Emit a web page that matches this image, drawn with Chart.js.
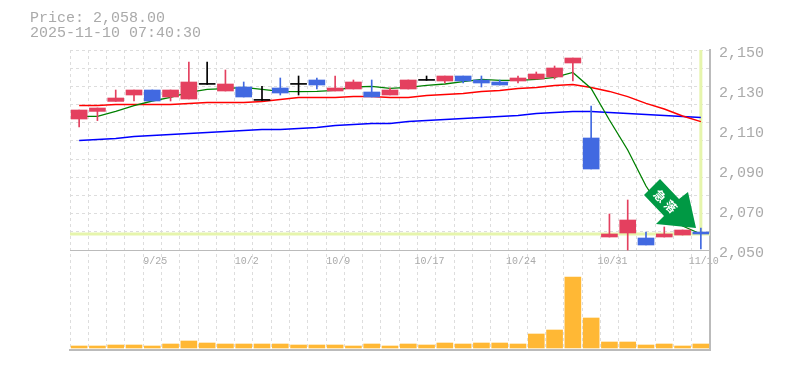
<!DOCTYPE html>
<html>
<head>
<meta charset="utf-8">
<title>Price chart</title>
<script src="https://cdn.jsdelivr.net/npm/chart.js@4"></script>
<style>
html, body { margin: 0; padding: 0; background: #fff; }
#wrap { position: relative; width: 785px; height: 370px; }
#info { position: absolute; left: 30px; top: 11px; font: 15px/15px "Liberation Mono", monospace; color: #aaa; white-space: pre; }
</style>
</head>
<body>
<div id="wrap">
  <canvas id="priceChart" width="785" height="370"></canvas>
  <div id="info">Price: 2,058.00
2025-11-10 07:40:30</div>
</div>
<script>
const dates = ["9/18","9/19","9/22","9/24","9/25","9/26","9/29","9/30","10/1","10/2","10/3","10/6","10/7","10/8","10/9","10/10","10/14","10/15","10/16","10/17","10/20","10/21","10/22","10/23","10/24","10/27","10/28","10/29","10/30","10/31","11/4","11/5","11/6","11/7","11/10"];
const labelDates = ["9/25","10/2","10/9","10/17","10/24","10/31","11/10"];

const opens = [2115.5,2119.3,2124.3,2127.5,2130,2126.5,2125.5,2132.8,2129.5,2131.5,2124.8,2131,2132.8,2135,2129.5,2130.5,2129,2127.5,2130.5,2134.8,2134.5,2137,2135,2134,2134.5,2135.5,2136.5,2143.5,2106,2056.5,2058.5,2056,2056.5,2057.5,2059];
const closes = [2120,2121,2126,2130,2124.5,2130,2134,2132.8,2133,2126.5,2124.8,2128.5,2132.8,2132.5,2131,2134,2126.5,2130,2135,2134.8,2137,2134.5,2133.5,2132.5,2136,2138,2141,2146,2090.5,2058,2065,2052.5,2058,2060,2058];
const highs = [2120,2121,2130,2130,2130,2130,2144,2144,2140,2134,2131.8,2136,2137,2136,2137,2135,2135,2131,2135,2137,2137,2137,2137,2135,2137,2139,2142,2146,2122,2068,2075,2059,2061.5,2060,2061];
const lows = [2111.5,2114.7,2124.3,2124.5,2124.5,2124.5,2125.5,2132.8,2129.5,2126.5,2124.8,2127.5,2127.5,2130.5,2129.5,2130.5,2126.5,2127.5,2130.5,2134.8,2133.5,2133.5,2131.5,2132.5,2133.5,2135.5,2135.5,2134.5,2090.5,2056.5,2050,2052.5,2056.5,2057.5,2050.5];

const maShort = [2116.8,2116.8,2119.3,2122.2,2124.5,2126.3,2128.8,2130.3,2130.7,2131.3,2130.3,2129.3,2129.2,2129.3,2129.8,2131.5,2131.8,2130.8,2131.3,2132.3,2133,2134.2,2135.3,2134.8,2134.8,2135.3,2136.3,2138.8,2130.8,2115,2100,2082,2068,2062,2058];
const maMiddle = [2122.3,2122.3,2122.8,2122.8,2122.8,2122.8,2123.3,2123.8,2123.8,2123.8,2124.3,2125.2,2126.3,2126.3,2126.3,2126.8,2126.8,2126.3,2126.3,2127.3,2127.8,2128.3,2129.3,2129.8,2130.8,2131.3,2132.3,2132.8,2131.3,2129.3,2126.7,2123.3,2120.5,2117,2114.2];
const maLong = [2104.8,2105.3,2105.8,2106.8,2107.3,2107.8,2108.3,2108.8,2109.3,2109.8,2110.3,2110.3,2110.8,2111.3,2112.3,2112.8,2113.3,2113.3,2114.3,2114.8,2115.3,2115.8,2116.3,2116.8,2117.3,2118.3,2118.8,2119.3,2119.3,2118.8,2118.3,2117.8,2117.3,2116.8,2116.3];
const volumes = [2,2,3,3,2,4,7,5,4,4,4,4,3,3,3,2,4,2,4,3,5,4,5,5,4,14,18,71,30,6,6,3,4,2,4];

const priceTicks = [2050,2070,2090,2110,2130,2150];
const currentPrice = 2058;

const UP = "#e4405f";
const DOWN = "#4169e1";
const DOJI = "#000000";

const candleColors = opens.map((o, i) => closes[i] > o ? UP : closes[i] < o ? DOWN : DOJI);
const wicks = lows.map((l, i) => [l, highs[i]]);
const bodies = opens.map((o, i) => [o, closes[i]]);

// yellow cross at the current price
const priceLines = {
  id: "priceLines",
  beforeDatasetsDraw(chart) {
    const { ctx, chartArea, scales } = chart;
    const y = scales.y.getPixelForValue(currentPrice);
    const x = scales.x.getPixelForValue(dates.length - 1);
    ctx.save();
    ctx.fillStyle = "#e6f5ac";
    ctx.fillRect(chartArea.left, y - 1.5, chartArea.width, 3);
    ctx.fillRect(x - 1.5, chartArea.top, 3, y - chartArea.top);
    ctx.restore();
  }
};

// green sign on top of the last candles
const signArrow = {
  id: "signArrow",
  afterDatasetsDraw(chart) {
    const ctx = chart.ctx;
    const pts = [[660,179],[644,195],[664,216],[656,224],[696,228],[688,192],[679,199]];
    ctx.save();
    ctx.fillStyle = "#009944";
    ctx.beginPath();
    pts.forEach((p, i) => i ? ctx.lineTo(p[0], p[1]) : ctx.moveTo(p[0], p[1]));
    ctx.closePath();
    ctx.fill();
    ctx.fillStyle = "#fff";
    ctx.font = "bold 12px 'Noto Sans CJK JP'";
    ctx.textAlign = "center";
    ctx.textBaseline = "middle";
    ctx.translate(660, 196);
    ctx.rotate(Math.PI / 4);
    ctx.fillText("急", 0, 0);
    ctx.translate(15, 0);
    ctx.fillText("落", 0, 0);
    ctx.restore();
  }
};

const maLine = (data, color, width) => ({
  type: "line",
  data: data,
  yAxisID: "y",
  borderColor: color,
  borderWidth: width,
  pointRadius: 0,
  tension: 0,
  order: 3
});

new Chart(document.getElementById("priceChart"), {
  data: {
    labels: dates,
    datasets: [
      { type: "bar", data: bodies, yAxisID: "y", backgroundColor: candleColors, barThickness: 16, minBarLength: 1, order: 1 },
      { type: "bar", data: wicks, yAxisID: "y", backgroundColor: candleColors, barThickness: 1, order: 2 },
      { type: "bar", data: volumes, yAxisID: "yVolume", backgroundColor: "#ffb835", barThickness: 16, order: 4 },
      maLine(maShort, "#008000", 1.3),
      maLine(maMiddle, "#ff0000", 1.5),
      maLine(maLong, "#0000ff", 1.5)
    ]
  },
  options: {
    responsive: false,
    animation: false,
    layout: { padding: { left: 70, top: 50, right: 0, bottom: 20 } },
    datasets: { bar: { grouped: false } },
    plugins: { legend: { display: false }, tooltip: { enabled: false } },
    scales: {
      x: {
        position: { y: 2050 },
        afterFit(scale) { scale.height = 0; },
        grid: { color: "#dddddd", lineWidth: 1, tickLength: 0 },
        border: { color: "#bbbbbb", width: 1, dash: [3, 3] },
        ticks: {
          color: "#aaaaaa",
          font: { family: "Liberation Mono", size: 10 },
          padding: 5,
          labelOffset: 3,
          autoSkip: false,
          maxRotation: 0,
          callback(value) {
            const label = this.getLabelForValue(value);
            return labelDates.includes(label) ? label : "";
          }
        }
      },
      xBottom: {
        type: "category",
        position: "bottom",
        afterFit(scale) { scale.height = 0; },
        grid: { display: false },
        border: { color: "#bbbbbb", width: 2 },
        ticks: { display: false }
      },
      y: {
        position: "right",
        min: 2000,
        max: 2150,
        afterBuildTicks(scale) { scale.ticks = priceTicks.map(v => ({ value: v })); },
        afterFit(scale) { scale.width = 75; },
        grid: { display: false },
        border: { color: "#bbbbbb", width: 2 },
        ticks: {
          color: "#aaaaaa",
          font: { family: "Liberation Mono", size: 15 },
          padding: 1,
          labelOffset: 3,
          callback: value => value.toLocaleString("en-US")
        }
      },
      yGrid: {
        display: true,
        position: "left",
        min: 2000,
        max: 2150,
        afterBuildTicks(scale) {
          const ticks = [];
          for (let i = 0; i <= 11; i++) ticks.push({ value: 2050 + i * 100 / 11 });
          scale.ticks = ticks;
        },
        afterFit(scale) { scale.width = 0; },
        grid: { color: "#dddddd", lineWidth: 1, tickLength: 0 },
        border: { display: false, dash: [3, 3] },
        ticks: { display: false }
      },
      yVolume: { display: false, min: -2, max: 298 }
    }
  },
  plugins: [priceLines, signArrow]
});
</script>
</body>
</html>
